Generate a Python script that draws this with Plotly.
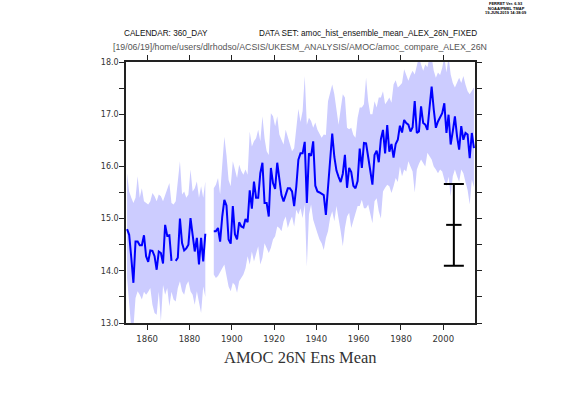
import plotly.graph_objects as go

# ---------------- data ----------------
start_year = 1850
mean_vals = [
    14.80, 14.69, 14.25, 13.77, 14.56, 14.56, 14.49, 14.49, 14.68, 14.28,
    14.17, 14.39, 14.38, 14.28, 14.02, 14.37, 14.34, 14.14, 14.88, 14.67,
    14.68, 14.19, None, 14.19, 14.25, 15.00, 14.53, 14.39, 14.43, 14.50,
    15.01, 14.69, 14.37, 14.63, 14.12, 14.63, 14.18, 14.71, None, None,
    None, 14.76, 14.76, 14.82, 14.56, 15.04, 15.36, 15.25, 14.60, 14.52,
    15.24, 14.70, 14.60, 14.93, 14.85, 14.83, 14.99, 14.93, 15.54, 15.19,
    15.71, 15.40, 15.40, 15.87, 16.07, 15.30, 15.30, 15.04, 15.97, 15.68,
    15.57, 16.07, 15.71, 15.45, 15.33, 15.48, 15.58, 15.58, 15.52, 15.24,
    15.61, 16.13, 16.25, 16.25, 16.47, 15.30, 16.25, 16.20, 16.48, 15.63,
    15.52, 15.50, 15.48, 15.45, 15.07, 15.55, 16.13, 16.63, 16.18, 15.92,
    15.80, 15.70, 15.86, 16.22, 15.59, 15.97, 15.89, 15.63, 15.58, 15.72,
    16.34, 15.97, 16.45, 16.44, 16.18, 15.93, 15.65, 16.22, 16.30, 16.08,
    16.52, 16.70, 16.25, 16.79, 16.28, 16.43, 16.17, 16.43, 16.51, 16.78,
    16.65, 16.89, 16.83, 16.80, 16.67, 16.75, 17.25, 16.64, 16.67, 17.15,
    16.83, 16.80, 16.70, 17.12, 17.53, 17.09, 16.74, 16.86, 16.93, 17.02,
    17.21, 16.64, 16.99, 16.42, 16.67, 16.96, 16.58, 16.32, 16.77, 16.51,
    16.64, 16.61, 16.16, 16.64, 16.35,
]
upper_vals = [
    15.87, 15.52, 15.40, 15.30, 15.40, 15.81, 15.40, 15.58, 15.33, 15.30,
    15.27, 15.33, 15.49, 15.43, 15.33, 15.46, 15.43, 15.33, 15.46, 15.58,
    15.68, 15.30, 15.27, 15.33, 15.71, 16.10, 15.46, 15.52, 15.40, 15.46,
    15.94, 15.52, 15.58, 15.71, 15.40, 15.62, 15.40, 15.71, None, None,
    None, 15.58, 15.65, 15.78, 15.46, 16.03, 16.57, 16.22, 15.74, 15.62,
    16.10, 15.94, 15.78, 16.03, 15.91, 15.84, 15.94, 15.84, 16.67, 16.38,
    16.48, 16.54, 16.70, 16.48, 16.96, 16.54, 16.29, 16.22, 17.02, 16.96,
    16.77, 16.96, 16.61, 16.51, 16.42, 16.70, 16.57, 16.42, 16.29, 16.35,
    16.80, 17.10, 16.85, 17.06, 17.73, 16.80, 16.93, 16.87, 16.74, 16.84,
    16.70, 16.61, 16.55, 16.61, 16.60, 17.25, 17.40, 17.57, 17.38, 17.13,
    16.80, 17.10, 17.38, 17.32, 16.74, 16.71, 16.74, 16.60, 16.55, 16.93,
    17.13, 17.13, 17.19, 17.70, 17.25, 17.00, 17.00, 17.25, 17.13, 17.32,
    17.32, 17.44, 17.19, 17.25, 17.32, 17.22, 17.57, 17.65, 17.51, 17.55,
    17.60, 17.86, 17.76, 17.64, 17.75, 17.83, 17.76, 17.95, 18.10, 17.95,
    17.83, 17.95, 17.90, 18.10, 18.10, 17.83, 17.70, 17.80, 17.75, 17.89,
    18.10, 17.80, 18.10, 17.76, 17.60, 17.51, 17.60, 17.70, 17.60, 17.73,
    17.57, 17.44, 17.38, 17.45, 17.51,
]
lower_vals = [
    13.86, 13.35, 12.90, 12.90, 13.48, 13.61, 13.54, 13.45, 13.60, 13.54,
    13.60, 13.67, 13.35, 13.19, 13.16, 13.60, 13.03, 13.73, 13.54, 13.67,
    13.32, 13.60, 13.45, 13.41, 13.67, 13.80, 13.61, 13.54, 13.73, 13.80,
    13.61, 13.54, 13.35, 13.61, 13.41, 13.19, 13.70, 13.50, None, None,
    None, 13.93, 13.86, 13.90, 13.96, 14.05, 14.12, 13.90, 13.70, 13.61,
    13.77, 13.73, 13.58, 13.80, 13.86, 13.93, 14.05, 14.28, 14.12, 14.37,
    14.18, 14.31, 14.47, 14.12, 14.25, 14.53, 14.44, 14.34, 14.44, 14.60,
    14.66, 14.85, 14.82, 14.76, 14.95, 15.04, 14.82, 14.95, 15.04, 14.85,
    15.17, 15.08, 15.20, 15.01, 15.27, 14.08, 15.08, 15.27, 14.98, 14.85,
    14.72, 14.60, 14.53, 14.40, 14.63, 14.76, 15.01, 15.14, 14.95, 15.24,
    15.01, 14.76, 14.47, 14.82, 15.04, 15.11, 14.82, 14.98, 15.11, 15.24,
    15.24, 15.36, 15.20, 15.20, 15.27, 15.08, 14.91, 15.33, 15.39, 15.14,
    15.00, 15.52, 15.59, 15.65, 15.62, 15.49, 15.62, 15.78, 15.70, 16.00,
    15.81, 15.94, 15.90, 16.10, 16.00, 15.90, 15.50, 15.94, 16.05, 16.13,
    16.06, 16.00, 16.26, 16.20, 16.13, 16.00, 15.94, 15.87, 15.94, 15.90,
    15.75, 15.62, 15.80, 15.43, 15.81, 15.94, 15.81, 15.70, 15.94, 15.87,
    15.70, 15.55, 15.27, 15.75, 15.60,
]
years = [start_year + i for i in range(len(mean_vals))]

obs_year = [2005.0]
obs_mean = [14.88]
obs_err = [0.785]

x_tickvals = [1860, 1880, 1900, 1920, 1940, 1960, 1980, 2000]
y_tickvals = [13.0, 14.0, 15.0, 16.0, 17.0, 18.0]
y_ticktext = ["13.0", "14.0", "15.0", "16.0", "17.0", "18.0"]

title_text = "AMOC 26N Ens Mean"
header_left = "CALENDAR: 360_DAY"
header_right = "DATA SET: amoc_hist_ensemble_mean_ALEX_26N_FIXED"
path_text = "[19/06/19]/home/users/dlrhodso/ACSIS/UKESM_ANALYSIS/AMOC/amoc_compare_ALEX_26N"
ferret_lines = ["FERRET Ver. 6.93", "NOAA/PMEL TMAP", "19-JUN-2019 14:38:09"]

# ---------------- figure ----------------
W, H = 561, 397
ML, MR, MT, MB = 126, 86, 62, 74
PW, PH = W - ML - MR, H - MT - MB


def px2x(px):
    return (px - ML) / PW


def py2y(py):
    return (H - MB - py) / PH


xs = [y + 0.5 for y in years]

fig = go.Figure()

# band: split into contiguous runs where both bounds exist
runs = []
cur = []
for xv, up, lo in zip(xs, upper_vals, lower_vals):
    if up is None or lo is None:
        if cur:
            runs.append(cur)
            cur = []
    else:
        cur.append((xv, up, lo))
if cur:
    runs.append(cur)

for run in runs:
    rx = [r[0] for r in run]
    ru = [r[1] for r in run]
    rl = [r[2] for r in run]
    fig.add_trace(go.Scatter(
        x=rx + rx[::-1], y=ru + rl[::-1],
        fill="toself", fillcolor="rgb(204,204,255)",
        line=dict(width=0), mode="lines", hoverinfo="skip", showlegend=False,
    ))

fig.add_trace(go.Scatter(
    x=xs, y=mean_vals, mode="lines",
    line=dict(color="#0000ff", width=2), showlegend=False,
))

fig.add_trace(go.Scatter(
    x=obs_year, y=obs_mean, mode="markers",
    marker=dict(symbol="line-ew", size=11, color="black",
                line=dict(color="black", width=2)),
    error_y=dict(type="data", array=obs_err, visible=True,
                 color="black", thickness=2, width=10),
    showlegend=False,
))

axis_common = dict(
    showline=True, linecolor="#222", linewidth=1.5, mirror="ticks",
    ticks="outside", ticklen=5, tickwidth=1, tickcolor="#222",
    showgrid=False, zeroline=False,
)

fig.update_xaxes(
    range=[1850, 2015], tickvals=x_tickvals,
    tickfont=dict(family="DejaVu Sans", size=8.5, color="#333"),
    ticklabelstandoff=2,
    **axis_common,
)
fig.update_yaxes(
    range=[13, 18], tickvals=y_tickvals, ticktext=y_ticktext,
    tickfont=dict(family="DejaVu Sans", size=8, color="#333"),
    minor=dict(dtick=0.5, tick0=13, ticks="outside", ticklen=5, tickcolor="#222", tickwidth=1),
    ticklabelstandoff=-1,
    **axis_common,
)

annotations = [
    dict(text=title_text, x=px2x(300), y=py2y(357.5), xanchor="center", yanchor="middle",
         font=dict(family="Liberation Serif", size=16.5, color="#333")),
    dict(text=header_left, x=px2x(122), y=py2y(33.5), xanchor="left", yanchor="middle",
         font=dict(family="Liberation Sans", size=8.2, color="#111")),
    dict(text=header_right, x=px2x(257), y=py2y(33.5), xanchor="left", yanchor="middle",
         font=dict(family="Liberation Sans", size=8.2, color="#111")),
    dict(text=path_text, x=px2x(111), y=py2y(47), xanchor="left", yanchor="middle",
         font=dict(family="Liberation Sans", size=8.8, color="#555")),
]
for i, t in enumerate(ferret_lines):
    annotations.append(dict(text="<b>" + t + "</b>", x=px2x(506), y=py2y(3.5 + 4.6 * i),
                            xanchor="center", yanchor="middle",
                            font=dict(family="Liberation Sans", size=4, color="#000")))
for a in annotations:
    a.update(xref="paper", yref="paper", showarrow=False)

fig.update_layout(
    width=W, height=H,
    margin=dict(l=ML, r=MR, t=MT, b=MB, pad=0),
    plot_bgcolor="white", paper_bgcolor="white",
    showlegend=False,
    annotations=annotations,
)

fig.write_html("out.html",
               config={"displayModeBar": False},
               post_script="document.body.style.margin='0';document.body.style.overflow='hidden';")
